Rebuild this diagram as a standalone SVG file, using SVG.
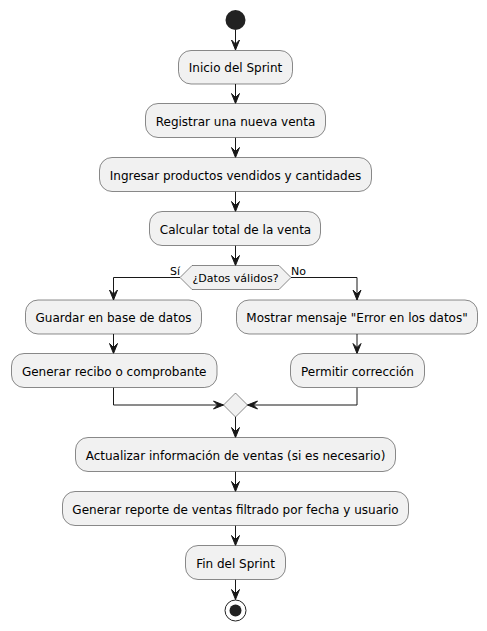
<svg xmlns="http://www.w3.org/2000/svg" width="487" height="631" viewBox="0 0 487 631">
<style>
.box{fill:#F1F1F1;stroke:#181818;stroke-width:0.5}
.t{font-family:"DejaVu Sans",sans-serif;font-size:12px;fill:#000;text-anchor:middle}
.s{font-family:"DejaVu Sans",sans-serif;font-size:11px;fill:#000}
.ln{fill:none;stroke:#181818;stroke-width:1}
</style>
<defs>
<marker id="ah" viewBox="-1 -5 12 10" refX="10" refY="0" markerWidth="12" markerHeight="10" markerUnits="userSpaceOnUse" orient="auto">
<path d="M0,-4 L10,0 L0,4 L4,0 Z" fill="#181818" stroke="#181818" stroke-width="1"/>
</marker>
</defs>
<g id="connectors">
<path class="ln" d="M235.5,30 V50" marker-end="url(#ah)"/>
<path class="ln" d="M235.5,84 V103.5" marker-end="url(#ah)"/>
<path class="ln" d="M235.5,137.5 V157.5" marker-end="url(#ah)"/>
<path class="ln" d="M235.5,191.5 V211.5" marker-end="url(#ah)"/>
<path class="ln" d="M235.5,245.5 V265.5" marker-end="url(#ah)"/>
<path class="ln" d="M180,277.5 H113.5 V300" marker-end="url(#ah)"/>
<path class="ln" d="M291,277.5 H357 V300" marker-end="url(#ah)"/>
<path class="ln" d="M113.5,334 V353.5" marker-end="url(#ah)"/>
<path class="ln" d="M357,334 V353.5" marker-end="url(#ah)"/>
<path class="ln" d="M113.5,387.5 V405 H223.5" marker-end="url(#ah)"/>
<path class="ln" d="M357,387.5 V405 H247.5" marker-end="url(#ah)"/>
<path class="ln" d="M235.5,417 V437.5" marker-end="url(#ah)"/>
<path class="ln" d="M235.5,471.5 V491.5" marker-end="url(#ah)"/>
<path class="ln" d="M235.5,525.5 V545.5" marker-end="url(#ah)"/>
<path class="ln" d="M235.5,579.5 V599.5" marker-end="url(#ah)"/>
<text class="s" x="180" y="275" text-anchor="end">Sí</text>
<text class="s" x="291" y="275">No</text>
</g>
<g id="start"><circle cx="235.5" cy="20" r="10" fill="#222222"/></g>
<g id="n1"><rect class="box" x="178.5" y="50.5" width="114" height="33.5" rx="12.5"/><text class="t" x="235.5" y="72">Inicio del Sprint</text></g>
<g id="n2"><rect class="box" x="145.5" y="103.5" width="180" height="34" rx="12.5"/><text class="t" x="235.5" y="125.5">Registrar una nueva venta</text></g>
<g id="n3"><rect class="box" x="99.5" y="157.5" width="272" height="34" rx="12.5"/><text class="t" x="235.5" y="179.5">Ingresar productos vendidos y cantidades</text></g>
<g id="n4"><rect class="box" x="149.5" y="211.5" width="171" height="34" rx="12.5"/><text class="t" x="235.5" y="233.5">Calcular total de la venta</text></g>
<g id="dec"><polygon class="box" points="180,277.5 192,265.5 279,265.5 291,277.5 279,289.5 192,289.5"/><text class="s" x="235.5" y="281.5" text-anchor="middle">¿Datos válidos?</text></g>
<g id="n5"><rect class="box" x="25.5" y="300" width="176" height="34" rx="12.5"/><text class="t" x="113.5" y="322">Guardar en base de datos</text></g>
<g id="n6"><rect class="box" x="236.5" y="300" width="241" height="34" rx="12.5"/><text class="t" x="357" y="322">Mostrar mensaje "Error en los datos"</text></g>
<g id="n7"><rect class="box" x="11.5" y="353.5" width="205.5" height="34" rx="12.5"/><text class="t" x="114.2" y="375.5">Generar recibo o comprobante</text></g>
<g id="n8"><rect class="box" x="290.5" y="353.5" width="134" height="34" rx="12.5"/><text class="t" x="357.5" y="375.5">Permitir corrección</text></g>
<g id="merge"><polygon class="box" points="235.5,393 247.5,405 235.5,417 223.5,405"/></g>
<g id="n9"><rect class="box" x="75.5" y="437.5" width="320" height="34" rx="12.5"/><text class="t" x="235.5" y="459.5">Actualizar información de ventas (si es necesario)</text></g>
<g id="n10"><rect class="box" x="62.5" y="491.5" width="346" height="34" rx="12.5"/><text class="t" x="235.5" y="513.5">Generar reporte de ventas filtrado por fecha y usuario</text></g>
<g id="n11"><rect class="box" x="185.5" y="545.5" width="100" height="34" rx="12.5"/><text class="t" x="235.5" y="567.5">Fin del Sprint</text></g>
<g id="end"><circle cx="235.5" cy="610.5" r="10.5" fill="none" stroke="#222222" stroke-width="1"/><circle cx="235.5" cy="610.5" r="6" fill="#222222"/></g>
</svg>
